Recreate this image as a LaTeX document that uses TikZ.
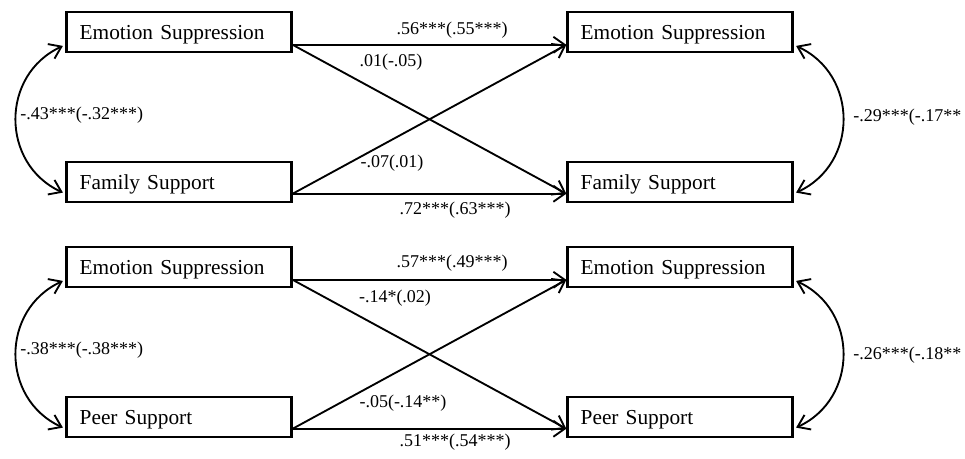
\documentclass[tikz,border=0pt]{standalone}
\usepackage{fontspec}
\setmainfont{Liberation Serif}
\usetikzlibrary{arrows.meta,calc}

\tikzset{
  varbox/.style={draw, line width=2pt, minimum height=30pt, text width=149pt, text depth=0pt,
    inner xsep=9.75pt, align=left, font=\fontsize{16}{18}\selectfont},
  coef/.style={inner sep=0pt, font=\fontsize{13.5}{15}\selectfont},
  effect/.style={line width=1.4pt, -{Straight Barb[length=8.5pt,width=12pt]}},
  corr/.style={line width=1.4pt, {Straight Barb[length=8.5pt,width=12pt]}-{Straight Barb[length=8.5pt,width=12pt]},
    shorten <=2pt, shorten >=2pt}
}

\begin{document}
\begin{tikzpicture}[x=0.75pt,y=0.75pt,yscale=-1,xscale=1]
\useasboundingbox (0,0) rectangle (965,458);

%Boxes, family model
\node[varbox] (es1) at (179,32) {Emotion Suppression};
\node[varbox] (fs1) at (179,182) {Family Support};
\node[varbox] (es2) at (680,32) {Emotion Suppression};
\node[varbox] (fs2) at (680,182) {Family Support};

%Boxes, peer model
\node[varbox] (es3) at (179,267) {Emotion Suppression};
\node[varbox] (ps3) at (179,417) {Peer Support};
\node[varbox] (es4) at (680,267) {Emotion Suppression};
\node[varbox] (ps4) at (680,417) {Peer Support};

%Paths, family model
\draw[effect] ($(es1.east)!0.6!(es1.south east)$) -- ($(es2.west)!0.6!(es2.south west)$);
\draw[effect] ($(es1.east)!0.6!(es1.south east)$) -- ($(fs2.west)!0.55!(fs2.south west)$);
\draw[effect] ($(fs1.east)!0.55!(fs1.south east)$) -- ($(es2.west)!0.6!(es2.south west)$);
\draw[effect] ($(fs1.east)!0.55!(fs1.south east)$) -- ($(fs2.west)!0.55!(fs2.south west)$);

%Correlations, family model
\draw[corr] ($(es1.west)!0.6!(es1.south west)$) .. controls +(-65,30) and +(-65,-30) .. ($(fs1.west)!0.55!(fs1.south west)$);
\draw[corr] ($(es2.east)!0.6!(es2.south east)$) .. controls +(65,30) and +(65,-30) .. ($(fs2.east)!0.55!(fs2.south east)$);

%Paths, peer model
\draw[effect] ($(es3.east)!0.6!(es3.south east)$) -- ($(es4.west)!0.6!(es4.south west)$);
\draw[effect] ($(es3.east)!0.6!(es3.south east)$) -- ($(ps4.west)!0.55!(ps4.south west)$);
\draw[effect] ($(ps3.east)!0.55!(ps3.south east)$) -- ($(es4.west)!0.6!(es4.south west)$);
\draw[effect] ($(ps3.east)!0.55!(ps3.south east)$) -- ($(ps4.west)!0.55!(ps4.south west)$);

%Correlations, peer model
\draw[corr] ($(es3.west)!0.6!(es3.south west)$) .. controls +(-65,30) and +(-65,-30) .. ($(ps3.west)!0.55!(ps3.south west)$);
\draw[corr] ($(es4.east)!0.6!(es4.south east)$) .. controls +(65,30) and +(65,-30) .. ($(ps4.east)!0.55!(ps4.south east)$);

% Text Node
\node[coef] (c56) at (452,30) {.56***(.55***)};
\node[coef] (c01) at (391,62) {.01(-.05)};
\node[coef] (c07) at (392,163) {-.07(.01)};
\node[coef] (c72) at (455,210) {.72***(.63***)};
\node[coef, anchor=west] (c43) at (20,115) {-.43***(-.32***)};
\node[coef, anchor=west] (c29) at (853,117) {-.29***(-.17**};
% Text Node
\node[coef] (c57) at (452,263) {.57***(.49***)};
\node[coef] (c14) at (395,298) {-.14*(.02)};
\node[coef] (c05) at (403,403) {-.05(-.14**)};
\node[coef] (c51) at (455,442) {.51***(.54***)};
\node[coef, anchor=west] (c38) at (20,350) {-.38***(-.38***)};
\node[coef, anchor=west] (c26) at (853,355) {-.26***(-.18**};

\end{tikzpicture}
\end{document}
